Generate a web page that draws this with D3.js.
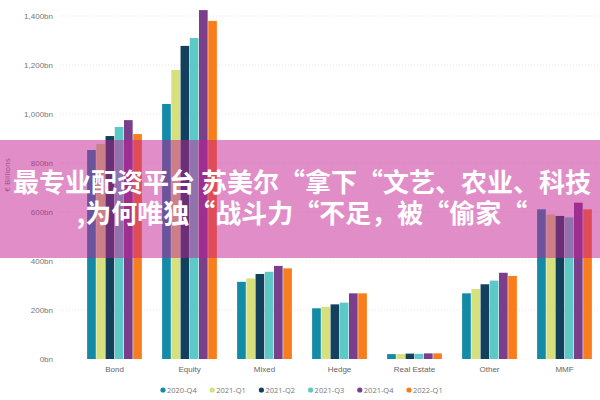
<!DOCTYPE html>
<html>
<head>
<meta charset="utf-8">
<script src="https://cdn.jsdelivr.net/npm/d3@7"></script>
<style>
  body { margin: 0; background: #fff; }
  svg { display: block; font-family: "Open Sans", "Noto Sans", sans-serif; }
</style>
</head>
<body>
<svg id="chart" width="600" height="400"></svg>
<script>
// chart data
const categories = ["Bond", "Equity", "Mixed", "Hedge", "Real Estate", "Other", "MMF"];
const quarters = ["2020-Q4", "2021-Q1", "2021-Q2", "2021-Q3", "2021-Q4", "2022-Q1"];
const q2020Q4 = [853, 1041, 315, 207, 20, 268, 611];
const q2021Q1 = [878, 1180, 329, 213, 20, 286, 590];
const q2021Q2 = [910, 1278, 347, 223, 22, 305, 584];
const q2021Q3 = [947, 1310, 356, 230, 21, 320, 578];
const q2021Q4 = [975, 1424, 380, 268, 23, 352, 638];
const q2022Q1 = [918, 1380, 370, 268, 23, 339, 611];
const yTicks = [0, 200, 400, 600, 800, 1000, 1200, 1400];
const colours = ["#138aa6", "#d6e17e", "#13405c", "#5cc9c6", "#7a3e8a", "#f87d1c"];
const bannerLines = ["最专业配资平台 苏美尔“拿下“文艺、农业、科技", ",为何唯独“战斗力“不足，被“偷家“"];

const seriesValues = [q2020Q4, q2021Q1, q2021Q2, q2021Q3, q2021Q4, q2022Q1];

const svg = d3.select("#chart");

const x0 = d3.scaleBand()
  .domain(categories)
  .range([77, 602])
  .paddingInner(0.27)
  .paddingOuter(0.135);

const x1 = d3.scaleBand()
  .domain(quarters)
  .range([0, x0.bandwidth()])
  .paddingInner(0.06);

const y = d3.scaleLinear()
  .domain([0, 1400])
  .range([359, 16]);

const fmt = d => d3.format(",")(d) + "bn";

// gridlines
svg.append("g")
  .selectAll("line")
  .data(yTicks.slice(1))
  .join("line")
  .attr("x1", 60)
  .attr("x2", 600)
  .attr("y1", d => y(d))
  .attr("y2", d => y(d))
  .attr("stroke", "#e6e6e6")
  .attr("stroke-dasharray", "1,2");

// y axis labels, no domain line
const yAxis = svg.append("g")
  .attr("transform", "translate(53,0)")
  .call(d3.axisLeft(y).tickValues(yTicks).tickFormat(fmt).tickSize(0).tickPadding(0));
yAxis.select(".domain").remove();
yAxis.selectAll("text")
  .attr("fill", "#777")
  .style("font-size", "8px");

svg.append("text")
  .attr("transform", "translate(10,175) rotate(-90)")
  .attr("text-anchor", "middle")
  .attr("fill", "#777")
  .style("font-size", "8px")
  .text("€ Billions");

// bars
const groups = svg.append("g")
  .selectAll("g")
  .data(categories)
  .join("g")
  .attr("transform", d => `translate(${x0(d)},0)`);

groups.selectAll("rect")
  .data((c, ci) => quarters.map((q, qi) => ({ q, qi, v: seriesValues[qi][ci] })))
  .join("rect")
  .attr("x", d => x1(d.q))
  .attr("width", x1.bandwidth())
  .attr("y", d => y(d.v))
  .attr("height", d => y(0) - y(d.v))
  .attr("fill", d => colours[d.qi]);

// category labels
const xAxis = svg.append("g")
  .attr("transform", "translate(0,363)")
  .call(d3.axisBottom(x0).tickSize(0).tickPadding(3));
xAxis.select(".domain").remove();
xAxis.selectAll("text")
  .attr("fill", "#666")
  .style("font-size", "8px");

// legend
const legend = svg.append("g")
  .selectAll("g")
  .data(quarters)
  .join("g")
  .attr("transform", (d, i) => `translate(${163 + i * 49.2},390)`);

legend.append("circle")
  .attr("r", 2.6)
  .attr("fill", (d, i) => colours[i]);

legend.append("text")
  .attr("x", 4)
  .attr("dy", "0.35em")
  .attr("fill", "#777")
  .style("font-size", "7.5px")
  .text(d => d);

// pink banner across the middle
svg.append("rect")
  .attr("x", 0)
  .attr("y", 140)
  .attr("width", 600)
  .attr("height", 118)
  .attr("fill", "rgba(196,30,145,0.5)");

svg.append("g")
  .selectAll("text")
  .data(bannerLines)
  .join("text")
  .attr("x", 302)
  .attr("y", (d, i) => 192 + i * 31)
  .attr("text-anchor", "middle")
  .attr("fill", "#fff")
  .style("font-family", "'Noto Sans CJK SC', sans-serif")
  .style("font-weight", "bold")
  .style("font-size", "26px")
  .text(d => d);
</script>
</body>
</html>
